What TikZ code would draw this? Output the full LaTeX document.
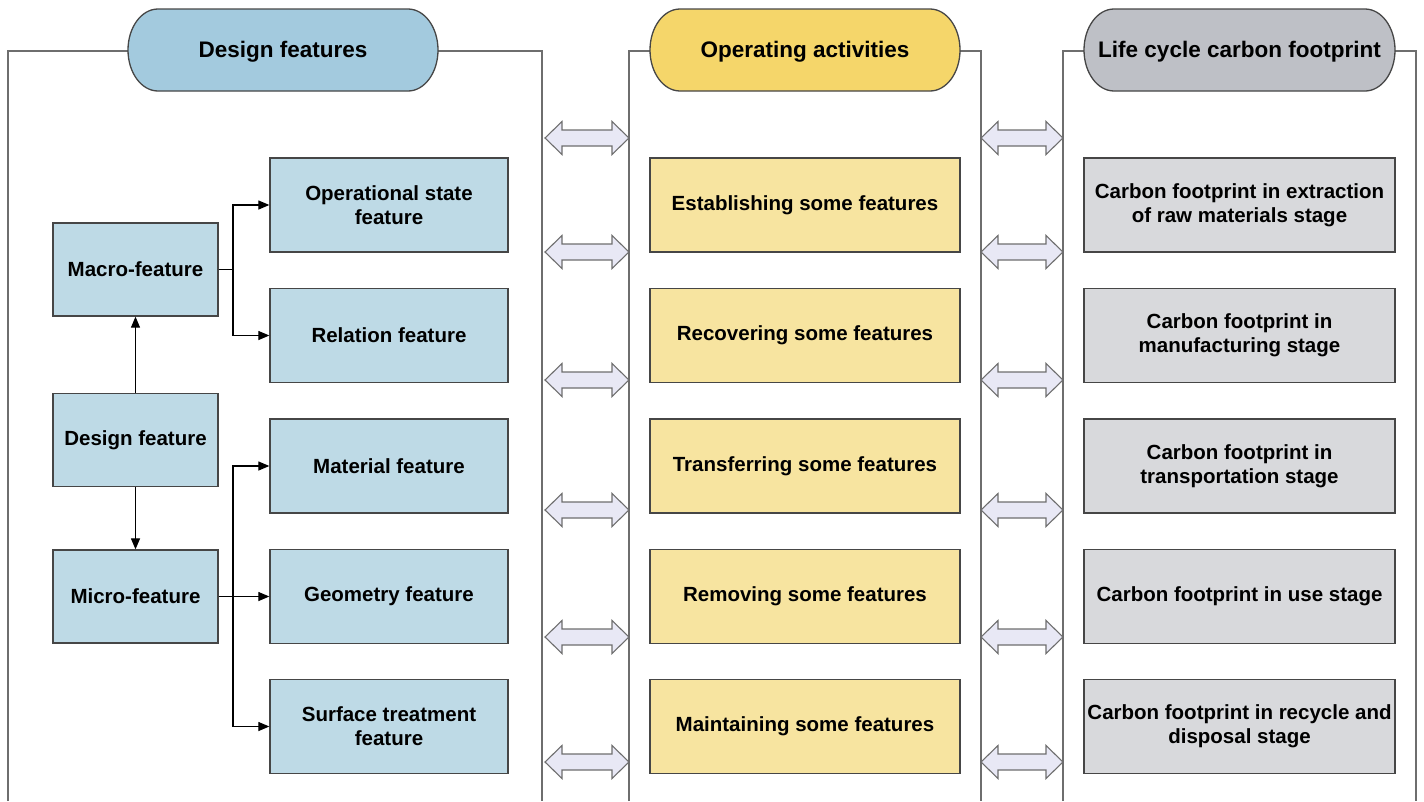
\documentclass[tikz,border=0pt]{standalone}
\usepackage{fontspec}
\setmainfont{Liberation Sans}
\usetikzlibrary{arrows.meta}
\definecolor{bluebox}{RGB}{190,218,230}
\definecolor{bluepill}{RGB}{163,202,222}
\definecolor{yellowbox}{RGB}{247,228,160}
\definecolor{yellowpill}{RGB}{245,214,106}
\definecolor{graybox}{RGB}{216,217,220}
\definecolor{graypill}{RGB}{190,192,198}
\definecolor{arrowfill}{RGB}{232,232,245}
\definecolor{boxline}{RGB}{70,70,70}
\definecolor{frameline}{RGB}{110,110,110}
\newcommand\pillshape[3]{%
  \filldraw[fill=#3, draw=boxline, line width=1.3pt]
    ({#1+30},9) -- ({#2-30},9)
    arc[start angle=-90,end angle=90,x radius=30,y radius=41]
    -- ({#1+30},91)
    arc[start angle=90,end angle=270,x radius=30,y radius=41] -- cycle;}
\newcommand\bidir[3]{%
  \filldraw[fill=arrowfill, draw=frameline, line width=1.1pt, line join=miter]
    (#1,#3) -- ({#1+17},{#3-16.5}) -- ({#1+17},{#3-8}) -- ({#2-17},{#3-8})
    -- ({#2-17},{#3-16.5}) -- (#2,#3) -- ({#2-17},{#3+16.5}) -- ({#2-17},{#3+8})
    -- ({#1+17},{#3+8}) -- ({#1+17},{#3+16.5}) -- cycle;}
\begin{document}
\begin{tikzpicture}[x=1pt,y=-1pt,
  txt/.style={font=\bfseries\fontsize{20.5}{24}\selectfont, align=center, text=black},
  box/.style={txt, draw=boxline, line width=1.3pt, inner sep=0pt},
  colA/.style={box, fill=bluebox, minimum width=165, minimum height=93},
  colB/.style={box, fill=bluebox, minimum width=238, minimum height=94},
  colM/.style={box, fill=yellowbox, minimum width=310, minimum height=94},
  colR/.style={box, fill=graybox, minimum width=311, minimum height=94},
  frame/.style={draw=frameline, line width=1.5pt},
  pilltext/.style={font=\bfseries\fontsize{22.5}{26}\selectfont, text=black, inner sep=0pt},
  conn/.style={draw=black, line width=1.2pt, -{Triangle[length=11pt,width=9pt]}},
  plain/.style={draw=black, line width=1.2pt}]
\useasboundingbox (0,0) rectangle (1424,801);
% frames
\draw[frame] (8,801) -- (8,51) -- (542,51) -- (542,801);
\draw[frame] (629,801) -- (629,51) -- (981,51) -- (981,801);
\draw[frame] (1063,801) -- (1063,51) -- (1416,51) -- (1416,801);
% pills
\pillshape{128}{438}{bluepill}
\node[pilltext] (hA) at (283,52) {Design features};
\pillshape{650}{960}{yellowpill}
\node[pilltext] (hM) at (805,52) {Operating activities};
\pillshape{1084}{1395}{graypill}
\node[pilltext] (hR) at (1239.5,52) {Life cycle carbon footprint};
% left column
\node[colA] (macro) at (135.5,269.5) {Macro-feature};
\node[colA] (design) at (135.5,440) {Design feature};
\node[colA] (micro) at (135.5,596.5) {Micro-feature};
\node[colB] (op) at (389,205) {Operational state\\feature};
\node[colB] (rel) at (389,335.5) {Relation feature};
\node[colB] (mat) at (389,466) {Material feature};
\node[colB] (geo) at (389,596.5) {Geometry feature};
\node[colB] (surf) at (389,726.5) {Surface treatment\\feature};
% middle
\node[colM] (m1) at (805,205) {Establishing some features};
\node[colM] (m2) at (805,335.5) {Recovering some features};
\node[colM] (m3) at (805,466) {Transferring some features};
\node[colM] (m4) at (805,596.5) {Removing some features};
\node[colM] (m5) at (805,726.5) {Maintaining some features};
% right
\node[colR] (r1) at (1239.5,205) {Carbon footprint in extraction\\of raw materials stage};
\node[colR] (r2) at (1239.5,335.5) {Carbon footprint in\\manufacturing stage};
\node[colR] (r3) at (1239.5,466) {Carbon footprint in\\transportation stage};
\node[colR] (r4) at (1239.5,596.5) {Carbon footprint in use stage};
\node[colR] (r5) at (1239.5,726.5) {Carbon footprint in recycle and\\disposal stage};
% connectors
\coordinate (j1) at (233,269.5);
\coordinate (j2) at (233,596.5);
\draw[plain] (macro.east) -- (j1);
\draw[conn] (j1) |- (op.west);
\draw[conn] (j1) |- (rel.west);
\draw[conn] (design.north) -- (macro.south);
\draw[conn] (design.south) -- (micro.north);
\draw[conn] (micro.east) -- (geo.west);
\draw[conn] (j2) |- (mat.west);
\draw[conn] (j2) |- (surf.west);
% double arrows
\foreach \yy in {138,252,380,510,637,762}{
  \bidir{545}{629}{\yy}
  \bidir{981}{1063}{\yy}
}
\end{tikzpicture}
\end{document}
